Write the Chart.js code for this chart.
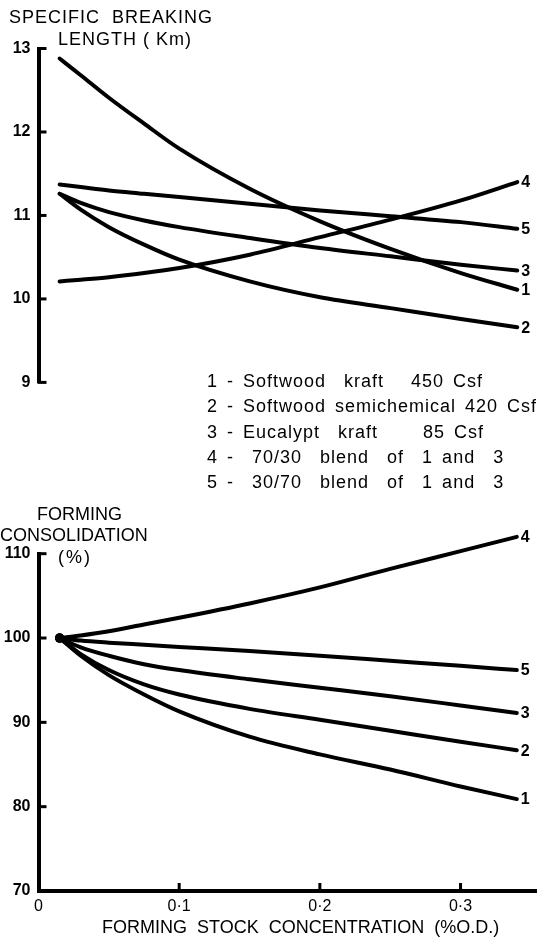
<!DOCTYPE html>
<html lang="en">
<head>
    <meta charset="UTF-8">
    <title>Breaking length and forming consolidation vs stock concentration</title>
    <script src="https://cdn.jsdelivr.net/npm/chart.js"></script>
    <style>
        body {
            margin: 0;
            background: #fff;
            font-family: 'Liberation Sans', Arial, sans-serif;
            color: #000;
        }
        .page {
            position: relative;
            width: 541px;
            height: 938px;
            overflow: hidden;
        }
        canvas {
            position: absolute;
            left: 0;
        }
        .txt {
            position: absolute;
            font-size: 18px;
            line-height: 18px;
            white-space: pre;
            z-index: 2;
        }
        .legend {
            position: absolute;
            left: 207px;
            top: 369px;
            font-size: 18px;
            line-height: 25.25px;
            letter-spacing: 1px;
            word-spacing: 3px;
            white-space: pre;
            z-index: 2;
        }
    </style>
</head>
<body>
<div class="page">
    <canvas id="lengthChart" width="541" height="400" style="top:0"></canvas>
    <canvas id="consChart" width="541" height="448" style="top:490px"></canvas>

    <div class="txt" style="left:9px; top:7.6px; letter-spacing:1px">SPECIFIC  BREAKING</div>
    <div class="txt" style="left:58px; top:29.6px; letter-spacing:1px">LENGTH ( Km)</div>

    <div class="legend" id="legend"></div>

    <div class="txt" style="left:37px; top:504.6px">FORMING</div>
    <div class="txt" style="left:0px; top:525.6px">CONSOLIDATION</div>
    <div class="txt" style="left:58px; top:547.6px; letter-spacing:2px">(%)</div>

    <div class="txt" style="left:102px; top:917.6px">FORMING  STOCK  CONCENTRATION  (%O.D.)</div>
</div>

<script>
    // concentration, % o.d.
    const conc = [0.015, 0.03, 0.05, 0.075, 0.1, 0.15, 0.2, 0.25, 0.3, 0.34];

    // specific breaking length, km
    const len1 = [12.88, 12.68, 12.41, 12.10, 11.80, 11.32, 10.93, 10.60, 10.31, 10.11];
    const len2 = [11.26, 11.07, 10.86, 10.65, 10.47, 10.21, 10.02, 9.89, 9.76, 9.66];
    const len3 = [11.26, 11.15, 11.04, 10.94, 10.86, 10.73, 10.61, 10.51, 10.41, 10.34];
    const len4 = [10.21, 10.23, 10.26, 10.31, 10.37, 10.53, 10.74, 10.95, 11.18, 11.40];
    const len5 = [11.37, 11.34, 11.30, 11.26, 11.22, 11.14, 11.06, 10.99, 10.92, 10.84];

    // forming consolidation, %
    const cons1 = [100, 97.9, 95.6, 93.3, 91.3, 88.3, 86.2, 84.4, 82.4, 80.9];
    const cons2 = [100, 98.1, 96.2, 94.5, 93.3, 91.6, 90.3, 89.0, 87.7, 86.7];
    const cons3 = [100, 98.9, 97.9, 96.9, 96.2, 95.1, 94.1, 93.1, 92.0, 91.1];
    const cons4 = [100, 100.3, 100.8, 101.6, 102.4, 104.1, 106.0, 108.2, 110.3, 112.0];
    const cons5 = [100, 99.7, 99.45, 99.2, 98.95, 98.45, 97.9, 97.3, 96.7, 96.2];

    const curveNames = ['1', '2', '3', '4', '5'];
    const legendLines = [
        '1 - Softwood  kraft   450 Csf',
        '2 - Softwood semichemical 420 Csf',
        '3 - Eucalypt  kraft     85 Csf',
        '4 -  70/30  blend  of  1 and  3',
        '5 -  30/70  blend  of  1 and  3'
    ];

    const lenTicks = [9, 10, 11, 12, 13];
    const consTicks = [70, 80, 90, 100, 110];
    const xTicks = [0, 0.1, 0.2, 0.3];
    const xTickLabels = ['0', '0\u00b71', '0\u00b72', '0\u00b73'];

    document.getElementById('legend').textContent = legendLines.join('\n');

    // inward tick marks + curve numbers at line ends
    const paperTicks = {
        id: 'paperTicks',
        afterDatasetsDraw(chart, args, opts) {
            const ctx = chart.ctx;
            const y = chart.scales.y;
            const x = chart.scales.x;
            ctx.save();
            ctx.strokeStyle = '#000';
            ctx.lineWidth = 3;
            y.ticks.forEach(t => {
                const py = y.getPixelForValue(t.value);
                ctx.beginPath();
                ctx.moveTo(y.right - 1, py);
                ctx.lineTo(y.right + 8, py);
                ctx.stroke();
            });
            if (opts.xTicks) {
                x.ticks.forEach(t => {
                    if (t.value === 0) return;
                    const px = x.getPixelForValue(t.value);
                    ctx.beginPath();
                    ctx.moveTo(px, x.top + 1);
                    ctx.lineTo(px, x.top - 8);
                    ctx.stroke();
                });
            }
            ctx.fillStyle = '#000';
            ctx.font = 'bold 16px "Liberation Sans", Arial, sans-serif';
            ctx.textBaseline = 'middle';
            ctx.textAlign = 'left';
            chart.data.datasets.forEach((ds, i) => {
                const pts = chart.getDatasetMeta(i).data;
                const last = pts[pts.length - 1];
                ctx.fillText(ds.label, last.x + 4, last.y + 1);
            });
            ctx.restore();
        }
    };

    function makeSets(series, dot) {
        return series.map((vals, i) => ({
            label: curveNames[i],
            data: conc.map((c, j) => ({ x: c, y: vals[j] })),
            borderColor: '#000',
            backgroundColor: '#000',
            borderWidth: 4,
            borderCapStyle: 'round',
            cubicInterpolationMode: 'monotone',
            pointRadius: ctx => (dot && ctx.dataIndex === 0) ? 4.5 : 0,
            pointBorderWidth: 0,
            clip: false
        }));
    }

    function yScale(min, max, ticks) {
        return {
            type: 'linear',
            min: min,
            max: max,
            afterFit: s => { s.width = 38.5; },
            afterBuildTicks: s => { s.ticks = ticks.map(v => ({ value: v })); },
            grid: { display: false, drawTicks: false },
            border: { display: true, color: '#000', width: 4 },
            ticks: {
                padding: 8,
                color: '#000',
                font: { family: '"Liberation Sans", Arial, sans-serif', size: 16, weight: 'bold' }
            }
        };
    }

    const baseOpts = {
        responsive: false,
        animation: false,
        events: [],
        plugins: { legend: { display: false }, tooltip: { enabled: false } }
    };

    Chart.defaults.font.family = '"Liberation Sans", Arial, sans-serif';

    new Chart(document.getElementById('lengthChart'), {
        type: 'line',
        data: { datasets: makeSets([len1, len2, len3, len4, len5], false) },
        options: Object.assign({}, baseOpts, {
            layout: { padding: { top: 48.5, bottom: 15.5, right: 4, left: 0 } },
            plugins: Object.assign({}, baseOpts.plugins, { paperTicks: { xTicks: false } }),
            scales: {
                x: { type: 'linear', min: 0, max: 0.354, display: false },
                y: yScale(9, 13, lenTicks)
            }
        }),
        plugins: [paperTicks]
    });

    new Chart(document.getElementById('consChart'), {
        type: 'line',
        data: { datasets: makeSets([cons1, cons2, cons3, cons4, cons5], true) },
        options: Object.assign({}, baseOpts, {
            layout: { padding: { top: 63.7, bottom: 0, right: 4, left: 0 } },
            plugins: Object.assign({}, baseOpts.plugins, { paperTicks: { xTicks: true } }),
            scales: {
                x: {
                    type: 'linear',
                    min: 0,
                    max: 0.354,
                    afterFit: s => { s.height = 47; },
                    afterBuildTicks: s => { s.ticks = xTicks.map(v => ({ value: v })); },
                    grid: { display: false, drawTicks: false },
                    border: { display: true, color: '#000', width: 4 },
                    ticks: {
                        padding: 6,
                        autoSkip: false,
                        maxRotation: 0,
                        color: '#000',
                        font: { size: 16 },
                        callback: (v, i) => xTickLabels[i]
                    }
                },
                y: yScale(70, 110, consTicks)
            }
        }),
        plugins: [paperTicks]
    });
</script>
</body>
</html>
